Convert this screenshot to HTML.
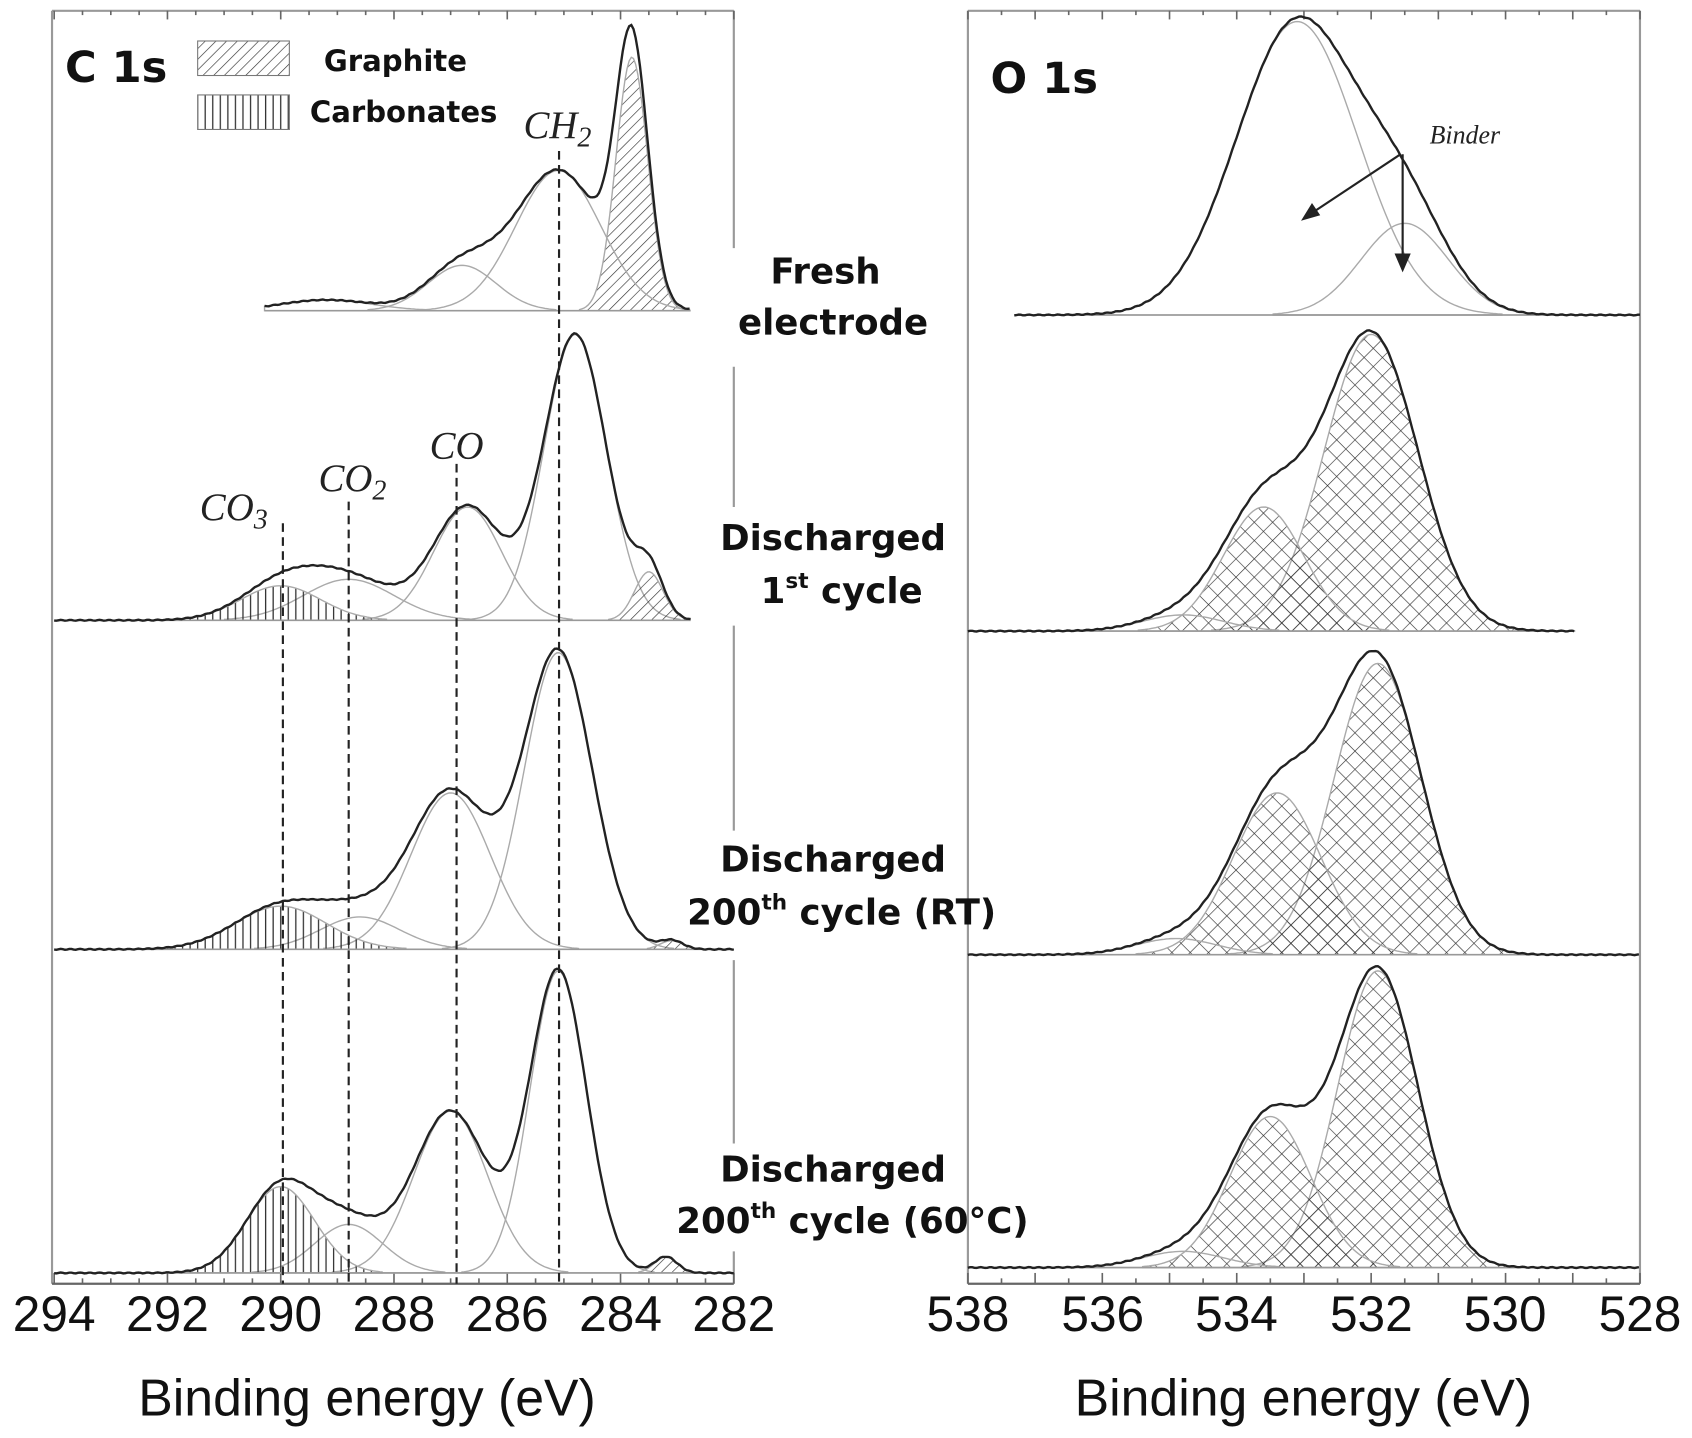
<!DOCTYPE html>
<html><head><meta charset="utf-8"><style>
html,body{margin:0;padding:0;background:#fff;}
svg{display:block;}
.b{font-family:"DejaVu Sans","Liberation Sans",sans-serif;font-weight:bold;fill:#111;}
.t{font-family:"Liberation Sans",sans-serif;fill:#111;}
.i{font-family:"Liberation Serif",serif;font-style:italic;fill:#222;}
</style></head><body>
<svg id="s" width="1692" height="1438" viewBox="0 0 1568 1333" xmlns="http://www.w3.org/2000/svg">
<defs>
<pattern id="hatch" width="7" height="7" patternUnits="userSpaceOnUse" patternTransform="rotate(45)"><line x1="0" y1="0" x2="0" y2="7" stroke="#333" stroke-width="1.2"/></pattern>
<pattern id="vert" width="7" height="10" patternUnits="userSpaceOnUse"><line x1="1" y1="0" x2="1" y2="10" stroke="#333" stroke-width="1.2"/></pattern>
<pattern id="cross" width="12" height="12" patternUnits="userSpaceOnUse" patternTransform="rotate(45)"><line x1="0" y1="0" x2="0" y2="12" stroke="#333" stroke-width="1.2"/><line x1="0" y1="0" x2="12" y2="0" stroke="#333" stroke-width="1.2"/></pattern>
</defs>
<g stroke="#999" stroke-width="2" fill="none">
<line x1="48" y1="10" x2="48" y2="1190"/><line x1="48" y1="10" x2="680" y2="10"/>
<line x1="680" y1="10" x2="680" y2="230"/><line x1="680" y1="340" x2="680" y2="470"/><line x1="680" y1="580" x2="680" y2="770"/><line x1="680" y1="890" x2="680" y2="1060"/><line x1="680" y1="1160" x2="680" y2="1190"/>
<line x1="897" y1="10" x2="897" y2="1190"/><line x1="897" y1="10" x2="1520" y2="10"/><line x1="1520" y1="10" x2="1520" y2="1190"/>
</g>
<g stroke="#666" stroke-width="2"><line x1="48" y1="1190" x2="680" y2="1190"/><line x1="897" y1="1190" x2="1520" y2="1190"/></g>
<g id="ticks" stroke="#666" stroke-width="1.5"></g>
<g id="plots"></g>
<g stroke="#222" stroke-width="2" stroke-dasharray="8,5">
<line x1="262" y1="485" x2="262" y2="1190"/><line x1="323" y1="465" x2="323" y2="1190"/><line x1="423" y1="430" x2="423" y2="1190"/><line x1="518" y1="140" x2="518" y2="1190"/>
</g>
<g class="t" font-size="46" text-anchor="middle">
<text x="50" y="1234">294</text><text x="155" y="1234">292</text><text x="260" y="1234">290</text><text x="365" y="1234">288</text><text x="470" y="1234">286</text><text x="575" y="1234">284</text><text x="680" y="1234">282</text>
<text x="897" y="1234">538</text><text x="1022" y="1234">536</text><text x="1146" y="1234">534</text><text x="1271" y="1234">532</text><text x="1395" y="1234">530</text><text x="1520" y="1234">528</text>
<text x="340" y="1312" font-size="48">Binding energy (eV)</text><text x="1208" y="1312" font-size="48">Binding energy (eV)</text>
</g>
<text class="b" x="60" y="76" font-size="40">C 1s</text>
<rect x="183" y="38" width="85" height="32" fill="url(#hatch)" stroke="#777"/>
<rect x="183" y="88" width="85" height="32" fill="url(#vert)" stroke="#777"/>
<text class="b" x="300" y="66" font-size="27">Graphite</text>
<text class="b" x="287" y="113" font-size="27">Carbonates</text>
<text class="b" x="918" y="86" font-size="40">O 1s</text>
<text class="i" x="485" y="128" font-size="36">CH<tspan font-size="26" dy="8">2</tspan></text>
<text class="i" x="398" y="425" font-size="36">CO</text>
<text class="i" x="295" y="455" font-size="36">CO<tspan font-size="26" dy="8">2</tspan></text>
<text class="i" x="185" y="482" font-size="36">CO<tspan font-size="26" dy="8">3</tspan></text>
<text class="i" x="1325" y="133" font-size="24">Binder</text>
<g stroke="#222" stroke-width="2" fill="#222">
<line x1="1298" y1="143" x2="1215" y2="198"/><polygon points="1208,203 1216,190 1222,199"/>
<line x1="1300" y1="143" x2="1300" y2="240"/><polygon points="1300,250 1294,236 1306,236"/>
</g>
<g class="b" font-size="33" text-anchor="middle">
<text x="765" y="263">Fresh</text><text x="772" y="310">electrode</text>
<text x="772" y="510">Discharged</text><text x="780" y="559">1<tspan font-size="20" dy="-14">st</tspan><tspan dy="14"> cycle</tspan></text>
<text x="772" y="808">Discharged</text><text x="780" y="857">200<tspan font-size="20" dy="-14">th</tspan><tspan dy="14"> cycle (RT)</tspan></text>
<text x="772" y="1095">Discharged</text><text x="790" y="1143">200<tspan font-size="20" dy="-14">th</tspan><tspan dy="14"> cycle (60°C)</tspan></text>
</g>
</svg>
<script>
var NS="http://www.w3.org/2000/svg",P=document.getElementById("plots"),T=document.getElementById("ticks");
function el(n,a,p){var e=document.createElementNS(NS,n);for(var k in a)e.setAttribute(k,a[k]);(p||P).appendChild(e);return e;}
for(var i=0;i<=24;i++){var x=50+i*26.25;el("line",{x1:x,y1:1190,x2:x,y2:i%4==0?1180:1185},T);el("line",{x1:x,y1:10,x2:x,y2:i%4==0?18:14},T);}
for(var i=0;i<=20;i++){var x=897+i*31.15;el("line",{x1:x,y1:1190,x2:x,y2:i%2==0?1180:1185},T);el("line",{x1:x,y1:10,x2:x,y2:i%2==0?18:14},T);}
function g(E,c,a,s){return a*Math.exp(-0.5*Math.pow((E-c)/s,2));}
function draw(X,x0,x1,base,comps){
  var st=2;
  comps.forEach(function(c){
    var pts=[];
    for(var x=x0;x<=x1;x+=st){var v=g(X(x),c[0],c[1],c[2]);if(v>0.8)pts.push([x,base-v]);}
    if(pts.length<2)return;
    var d="M"+pts[0][0]+","+base;pts.forEach(function(p){d+="L"+p[0]+","+p[1].toFixed(1);});d+="L"+pts[pts.length-1][0]+","+base+"Z";
    el("path",{d:d,fill:c[3]?"url(#"+c[3]+")":"none",stroke:"#aaa","stroke-width":1.3});
  });
  el("line",{x1:x0,y1:base,x2:x1,y2:base,stroke:"#999","stroke-width":1.5});
  var d="";
  for(var x=x0;x<=x1;x+=st){var v=0;comps.forEach(function(c){v+=g(X(x),c[0],c[1],c[2]);});v+=0.4*Math.sin(x*0.7);d+=(d?"L":"M")+x+","+(base-v).toFixed(1);}
  el("path",{d:d,fill:"none",stroke:"#222","stroke-width":2.2});
}
var XL=function(x){return 294-(x-50)/52.5;},XR=function(x){return 538-(x-897)/62.3;};
draw(XL,245,640,288,[[283.8,235,0.28,"hatch"],[285.1,130,0.75],[286.8,42,0.6],[289.2,10,0.8]]);
draw(XL,50,640,575,[[284.8,265,0.55],[286.7,105,0.6],[288.8,38,0.8],[290.0,32,0.7,"vert"],[283.5,45,0.25,"hatch"]]);
draw(XL,50,680,880,[[285.1,275,0.6],[287,145,0.7],[288.6,30,0.7],[290,40,0.8,"vert"],[283.1,8,0.2,"hatch"]]);
draw(XL,50,680,1180,[[285.1,280,0.5],[287,150,0.65],[288.8,45,0.6],[290,80,0.6,"vert"],[283.2,15,0.2,"hatch"]]);
draw(XR,940,1520,292,[[533.1,272,0.9],[531.5,85,0.65]]);
draw(XR,897,1460,585,[[532.0,275,0.7,"cross"],[533.6,115,0.6,"cross"],[534.8,15,0.6]]);
draw(XR,897,1520,885,[[531.9,270,0.65,"cross"],[533.4,150,0.65,"cross"],[534.9,15,0.6]]);
draw(XR,897,1520,1175,[[531.9,275,0.6,"cross"],[533.5,140,0.6,"cross"],[534.8,15,0.6]]);
</script>
</body></html>
